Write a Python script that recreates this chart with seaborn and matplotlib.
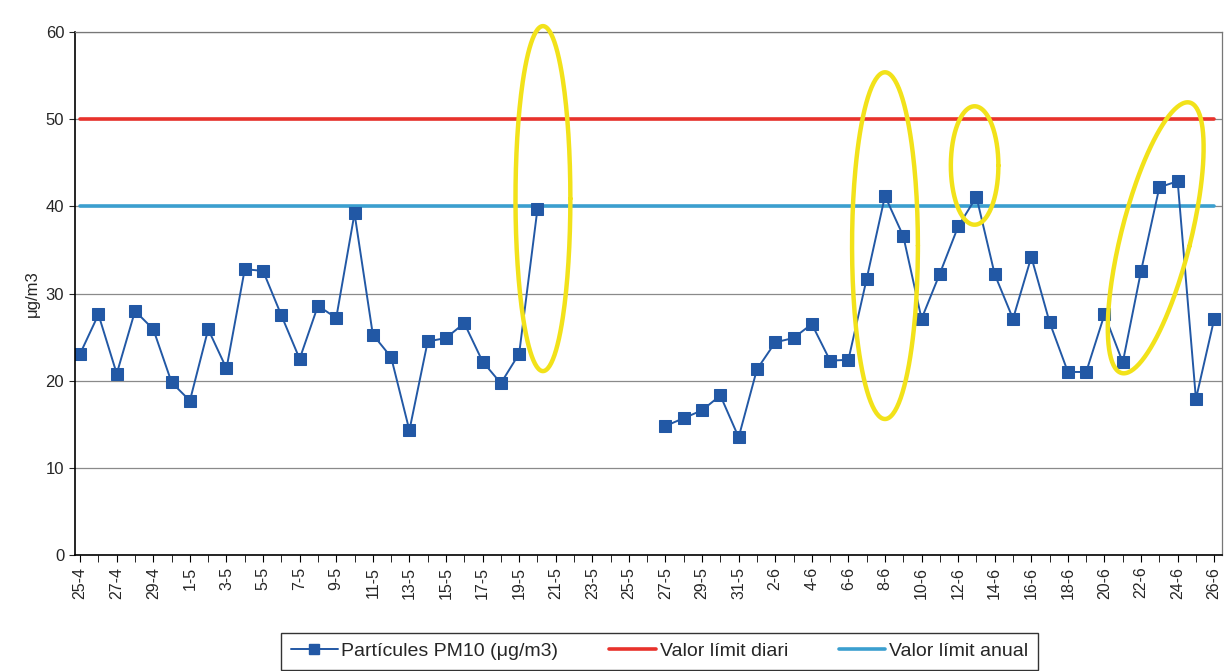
import numpy as np
import pandas as pd
import seaborn as sns
import matplotlib.pyplot as plt
from matplotlib.lines import Line2D

# days 25-4 .. 26-6
dates = [f'{d}-4' for d in range(25, 31)] + [f'{d}-5' for d in range(1, 32)] + [f'{d}-6' for d in range(1, 27)]

pm10 = [23.1, 27.6, 20.8, 28.0, 25.9, 19.8,
        17.7, 25.9, 21.4, 32.8, 32.6, 27.5, 22.5, 28.6, 27.2, 39.2,
        25.3, 22.7, 14.3, 24.5, 24.9, 26.6, 22.2, 19.7, 23.1, 39.7,
        np.nan, np.nan, np.nan, np.nan, np.nan, np.nan,
        14.8, 15.7, 16.6, 18.3, 13.5,
        21.3, 24.4, 24.9, 26.5, 22.3, 22.4, 31.7, 41.2, 36.6, 27.1,
        32.3, 37.7, 41.1, 32.2, 27.1, 34.2, 26.7, 21.0, 21.0, 27.6,
        22.1, 32.6, 42.2, 42.9, 17.9, 27.1]
limit_daily = 50
limit_annual = 40

# hand drawn yellow rings: centre (day, value), half width (days), half height (value), lean in degrees
rings = [(25.3, 40.9, 1.5, 19.8, 0),
         (44.0, 35.5, 1.8, 19.9, 0),
         (48.9, 44.7, 1.3, 6.8, 0),
         (58.8, 36.4, 1.9, 16.0, 14)]

df = pd.DataFrame({'day': range(len(dates)), 'pm10': pm10})
df['block'] = df['pm10'].isna().cumsum()
df = df.dropna()

sns.set_style('white')
plt.rcParams['font.family'] = ['Liberation Sans', 'DejaVu Sans']

fig = plt.figure(figsize=(12.24, 6.71), dpi=100)
ax = fig.add_axes([0.061, 0.173, 0.937, 0.779])

ax.set_ylim(0, 60)
ax.set_xlim(-0.3, len(dates) - 0.6)
ax.set_yticks(range(0, 61, 10))
ax.grid(axis='y', color='#8a8a8a', lw=0.9)
ax.set_axisbelow(True)

n = len(dates)
sns.lineplot(x=[0, n - 1], y=[limit_daily] * 2, color='#e8322b', lw=2.6, ax=ax)
sns.lineplot(x=[0, n - 1], y=[limit_annual] * 2, color='#3b9fcf', lw=2.6, ax=ax)
sns.lineplot(data=df, x='day', y='pm10', units='block', estimator=None,
             color='#2258a5', lw=1.4, marker='s', markersize=8,
             markeredgecolor='#2258a5', ax=ax)

# yellow rings, scaled in screen pixels so the lean looks right
sx, sy = 18.3, 8.8
t = np.linspace(0, 2 * np.pi, 200)
for cx, cy, a, b, lean in rings:
    th = np.radians(lean)
    px, py = a * sx * np.cos(t), b * sy * np.sin(t)
    xr = px * np.cos(th) + py * np.sin(th)
    yr = -px * np.sin(th) + py * np.cos(th)
    ax.plot(cx + xr / sx, cy + yr / sy, color='#f2e21a', lw=3.2, clip_on=False, zorder=5)

ax.set_xticks(range(0, n, 2))
ax.set_xticklabels(dates[::2], rotation=90, fontsize=11.5)
ax.set_xticks(range(n), minor=True)
ax.tick_params(axis='x', which='both', direction='out', length=5, bottom=True, color='black')
ax.tick_params(axis='y', labelsize=12, left=True, length=4)
ax.set_xlabel('')
ax.set_ylabel('μg/m3', fontsize=12)

for s in ['left', 'bottom']:
    ax.spines[s].set_color('black')
    ax.spines[s].set_linewidth(1.2)
for s in ['top', 'right']:
    ax.spines[s].set_color('#777777')
    ax.spines[s].set_linewidth(0.9)

handles = [Line2D([], [], color='#2258a5', lw=1.4, marker='s', markersize=7),
           Line2D([], [], color='#e8322b', lw=2.6),
           Line2D([], [], color='#3b9fcf', lw=2.6)]
labels = ['Partícules PM10 (μg/m3)', 'Valor límit diari', 'Valor límit anual']
leg = ax.legend(handles, labels, loc='upper center', bbox_to_anchor=(0.51, -0.13), ncol=3,
                frameon=True, fancybox=False, edgecolor='black', fontsize=14,
                handlelength=2.4, handletextpad=0.2, columnspacing=2.6, borderpad=0.5)
leg.get_frame().set_linewidth(1.0)

fig.savefig('out.png', dpi=100)
